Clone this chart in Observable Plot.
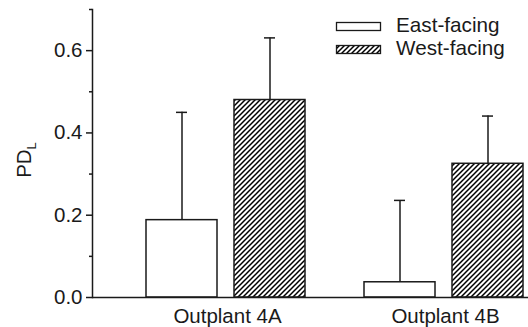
<!DOCTYPE html>
<html>
<head>
<meta charset="utf-8">
<script src="https://cdn.jsdelivr.net/npm/d3@7"></script>
<script src="https://cdn.jsdelivr.net/npm/@observablehq/plot@0.6"></script>
<style>
  html, body { margin: 0; padding: 0; background: white; }
  #chart { position: relative; width: 528px; height: 327px; }
</style>
</head>
<body>
<svg width="0" height="0" style="position:absolute">
  <defs>
    <pattern id="hatch" patternUnits="userSpaceOnUse" width="5" height="5">
      <rect width="5" height="5" fill="white"></rect>
      <path d="M-1,1 l2,-2 M0,5 l5,-5 M4,6 l2,-2" stroke="#000" stroke-width="1.5"></path>
    </pattern>
  </defs>
</svg>
<div id="chart"></div>
<script>
const groups = ["Outplant 4A", "Outplant 4B"];
const seriesNames = ["East-facing", "West-facing"];
const eastValues = [0.188, 0.037];
const eastUpper = [0.45, 0.236];
const westValues = [0.48, 0.325];
const westUpper = [0.631, 0.441];
const yTicks = [0, 0.2, 0.4, 0.6];
const yMinorTicks = [0.1, 0.3, 0.5, 0.7];
const yLabel = "PD";
const yLabelSub = "L";

const rows = [];
groups.forEach((g, i) => {
  rows.push({group: g, series: seriesNames[0], value: eastValues[i], upper: eastUpper[i]});
  rows.push({group: g, series: seriesNames[1], value: westValues[i], upper: westUpper[i]});
});
const east = rows.filter(d => d.series === seriesNames[0]);
const west = rows.filter(d => d.series === seriesNames[1]);

const font = "'Liberation Sans', Arial, Helvetica, sans-serif";
const ink = "#1a1a1a";

const chart = Plot.plot({
  width: 528,
  height: 327,
  marginLeft: 92,
  marginRight: 0,
  marginTop: 9,
  marginBottom: 30,
  style: {fontFamily: font, fontSize: "20px", color: ink, background: "white"},
  fx: {domain: groups, padding: 0},
  x: {domain: seriesNames, paddingInner: 0.19, paddingOuter: 0.333, align: 0.92},
  y: {domain: [0, 0.7]},
  marks: [
    Plot.ruleX(rows, {fx: "group", x: "series", y1: "value", y2: "upper", stroke: ink, strokeWidth: 1.5}),
    Plot.tickY(rows, {fx: "group", x: "series", y: "upper", stroke: ink, strokeWidth: 1.5, insetLeft: 30, insetRight: 30}),
    Plot.barY(east, {fx: "group", x: "series", y: "value", fill: "white", stroke: ink, strokeWidth: 1.5}),
    Plot.barY(west, {fx: "group", x: "series", y: "value", fill: "url(#hatch)", stroke: ink, strokeWidth: 1.5}),
    Plot.ruleY([0], {stroke: ink, strokeWidth: 1.5}),
    Plot.frame({anchor: "left", facetAnchor: "left", stroke: ink, strokeWidth: 1.5}),
    Plot.axisY(yTicks, {tickSize: 6, tickPadding: 4, tickFormat: ".1f", fontSize: 20.5, label: null, stroke: ink, strokeWidth: 1.5}),
    Plot.axisY(yMinorTicks, {tickSize: 3, tickFormat: () => "", label: null, stroke: ink, strokeWidth: 1.5}),
    Plot.axisFx({anchor: "bottom", tickSize: 0, tickPadding: 11, dx: 26, fontSize: 20.5, label: null}),
    Plot.axisX({ticks: [], label: null})
  ]
});

document.getElementById("chart").appendChild(chart);

const svg = d3.select(chart);
// y label with subscript
const yl = svg.append("text")
  .attr("transform", "translate(31,160) rotate(-90)")
  .attr("text-anchor", "middle")
  .attr("font-family", font)
  .attr("font-size", 20.5)
  .attr("fill", ink);
yl.append("tspan").text(yLabel);
yl.append("tspan").attr("font-size", 13).attr("dy", 5).text(yLabelSub);

// legend
const legend = svg.append("g").attr("font-family", font).attr("font-size", 20.7)
  .attr("fill", ink).attr("text-anchor", "start");
const legendFills = ["white", "url(#hatch)"];
seriesNames.forEach((name, i) => {
  const y = 22 + i * 22;
  legend.append("rect").attr("x", 336.5).attr("y", y + 0.5 + (i ? 1 : 0)).attr("width", 44).attr("height", 8)
    .attr("fill", legendFills[i]).attr("stroke", ink).attr("stroke-width", 1.3);
  legend.append("text").attr("x", 396).attr("y", y + 10 + (i ? 1 : 0)).text(name);
});
</script>
</body>
</html>
